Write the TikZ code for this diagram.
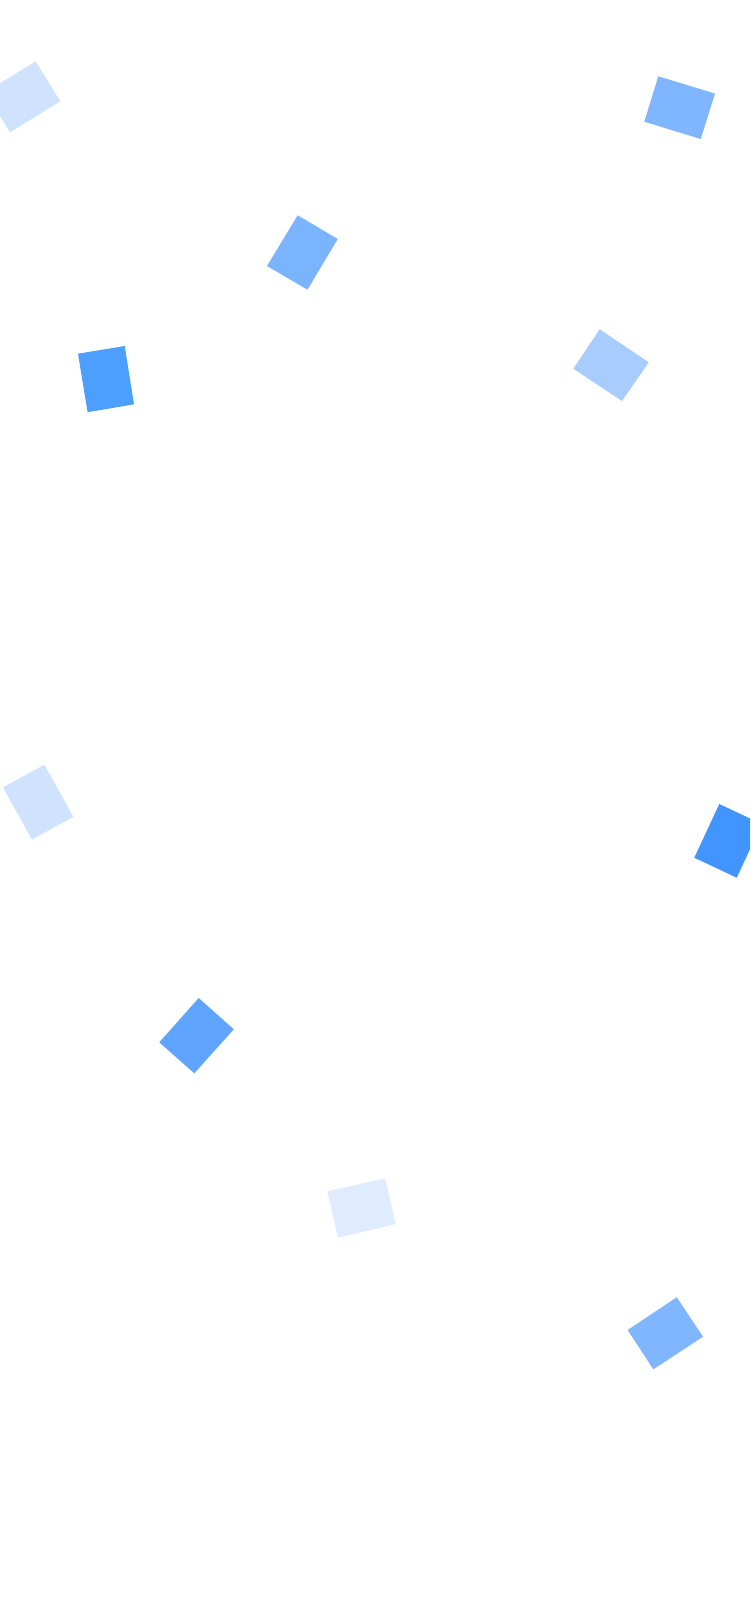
\documentclass[tikz,border=0pt]{standalone}
\definecolor{cA}{HTML}{CFE3FF}
\definecolor{cB}{HTML}{80B6FF}
\definecolor{cC}{HTML}{7AB4FF}
\definecolor{cD}{HTML}{4D9FFF}
\definecolor{cE}{HTML}{A9CCFF}
\definecolor{cF}{HTML}{4294FF}
\definecolor{cG}{HTML}{5FA5FF}
\definecolor{cH}{HTML}{DFECFF}
\tikzset{piece/.style={draw=none}}
\begin{document}
\begin{tikzpicture}[x=1pt,y=-1pt]
\useasboundingbox (0,0) rectangle (750,1624);
\fill[white] (0,0) rectangle (750,1624);
\begin{scope}
\clip (0,0) rectangle (750,1624);
\fill[piece,cA] (35.7,61.3) -- (60.3,101.3) -- (10,132.3) -- (-14.6,92.3) -- cycle;
\fill[piece,cB] (658.3,76.3) -- (715,93.6) -- (700.7,139) -- (644.3,121.7) -- cycle;
\fill[piece,cC] (297.7,215.3) -- (337.7,239) -- (307.4,289.7) -- (267,266) -- cycle;
\fill[piece,cD] (78,353.7) -- (124.7,346) -- (134,404.3) -- (87.6,412.2) -- cycle;
\fill[piece,cE] (599.7,329.3) -- (648.7,362.3) -- (622,401) -- (573.3,368.7) -- cycle;
\fill[piece,cA] (44.3,764.7) -- (73.3,816.7) -- (32,839.6) -- (3,787.3) -- cycle;
\fill[piece,cF] (719.3,804) -- (761.7,824) -- (736.7,877.7) -- (694.3,857.7) -- cycle;
\fill[piece,cG] (198.7,998) -- (233.7,1029.3) -- (194.3,1073.3) -- (159.3,1042.3) -- cycle;
\fill[piece,cH] (327.3,1191.3) -- (385,1178.3) -- (395.7,1224) -- (338,1237.7) -- cycle;
\fill[piece,cB] (676.7,1297.3) -- (703,1336.7) -- (653.3,1369.3) -- (627.7,1330) -- cycle;
\end{scope}
\end{tikzpicture}
\end{document}
